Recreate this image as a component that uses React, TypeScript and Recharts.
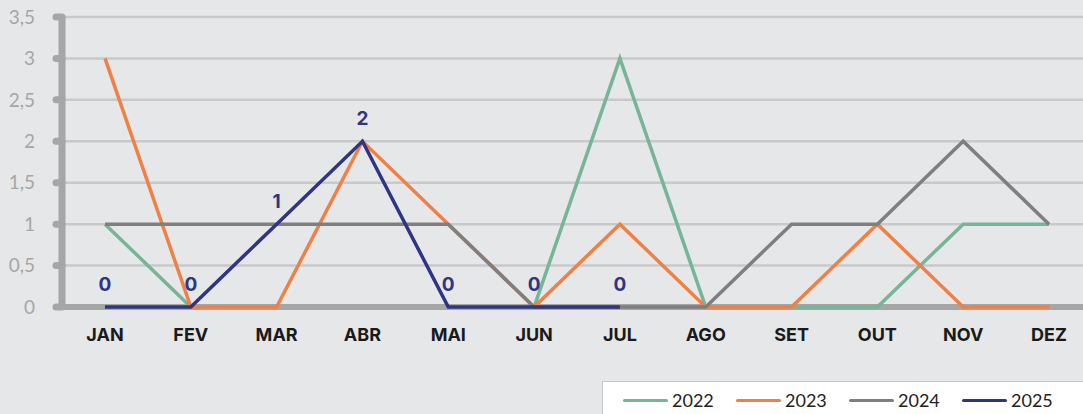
import React from 'react';
import { LineChart, Line, XAxis, YAxis, CartesianGrid, LabelList, ReferenceLine } from 'recharts';

const months = ['JAN', 'FEV', 'MAR', 'ABR', 'MAI', 'JUN', 'JUL', 'AGO', 'SET', 'OUT', 'NOV', 'DEZ'];
const s2022 = [1, 0, null, null, null, 0, 3, 0, 0, 0, 1, 1];
const s2023 = [3, 0, 0, 2, 1, 0, 1, 0, 0, 1, 0, 0];
const s2024 = [1, 1, 1, 1, 1, 0, 0, 0, 1, 1, 2, 1];
const s2025 = [0, 0, 1, 2, 0, 0, 0, null, null, null, null, null];
const yTicks = [0, 0.5, 1, 1.5, 2, 2.5, 3, 3.5];

const series = [
  { key: 'y2022', name: '2022', color: '#76b596' },
  { key: 'y2023', name: '2023', color: '#ef8146' },
  { key: 'y2024', name: '2024', color: '#7f7f7f' },
  { key: 'y2025', name: '2025', color: '#2e3582' },
];

const data = months.map((m, i) => ({
  month: m,
  y2022: s2022[i],
  y2023: s2023[i],
  y2024: s2024[i],
  y2025: s2025[i],
}));

const LegendBox = () => (
  <div
    style={{
      position: 'absolute',
      left: 602,
      top: 381,
      width: 500,
      height: 40,
      background: '#ffffff',
      border: '1px solid #c8c8c8',
      boxSizing: 'border-box',
      display: 'flex',
      alignItems: 'center',
      paddingLeft: 20,
      fontFamily: 'Lato, sans-serif',
      fontSize: 18,
      color: '#222',
    }}
  >
    {series.map(s => (
      <div key={s.key} style={{ display: 'flex', alignItems: 'center', width: 113, marginTop: -2 }}>
        <div style={{ width: 45, height: 3, background: s.color, borderRadius: 2, marginRight: 4 }} />
        <span>{s.name}</span>
      </div>
    ))}
  </div>
);

const App: React.FC = () => {
  return (
    <div
      style={{
        position: 'absolute',
        left: 0,
        top: 0,
        width: 1083,
        height: 414,
        overflow: 'hidden',
        background: '#e6e7e9',
      }}
    >
      <LineChart
        width={1100}
        height={414}
        data={data}
        margin={{ top: 17, right: 8, left: 0, bottom: 67 }}
      >
        <CartesianGrid vertical={false} stroke="#c8c9cb" strokeWidth={2.5} />
        <XAxis
          dataKey="month"
          padding={{ left: 43, right: 43 }}
          axisLine={false}
          tickLine={false}
          tickSize={0}
          tickMargin={21}
          height={40}
          interval={0}
          tick={{ fill: '#1a1a1a', fontSize: 18, fontWeight: 700, fontFamily: 'Inter, sans-serif' }}
        />
        <YAxis
          width={62}
          domain={[0, 3.5]}
          ticks={yTicks}
          interval={0}
          axisLine={{ stroke: '#a6a6a6', strokeWidth: 7 }}
          tickLine={{ stroke: '#a6a6a6', strokeWidth: 7, strokeLinecap: 'round' }}
          tickSize={6}
          tickMargin={21}
          tickFormatter={(v: number) => String(v).replace('.', ',')}
          tick={{ fill: '#a6a6a6', fontSize: 19, fontFamily: 'Lato, sans-serif' }}
        />
        <ReferenceLine y={0} stroke="#a6a6a6" strokeWidth={6} />
        {series.map(s => (
          <Line
            key={s.key}
            type="linear"
            dataKey={s.key}
            name={s.name}
            stroke={s.color}
            strokeWidth={3.5}
            dot={false}
            activeDot={false}
            isAnimationActive={false}
          >
            {s.key === 'y2025' && (
              <LabelList
                dataKey="y2025"
                position="top"
                offset={16}
                fill="#2e3582"
                fontSize={19}
                fontWeight={700}
                fontFamily="Inter, sans-serif"
              />
            )}
          </Line>
        ))}
      </LineChart>
      <LegendBox />
    </div>
  );
};

export default App;
